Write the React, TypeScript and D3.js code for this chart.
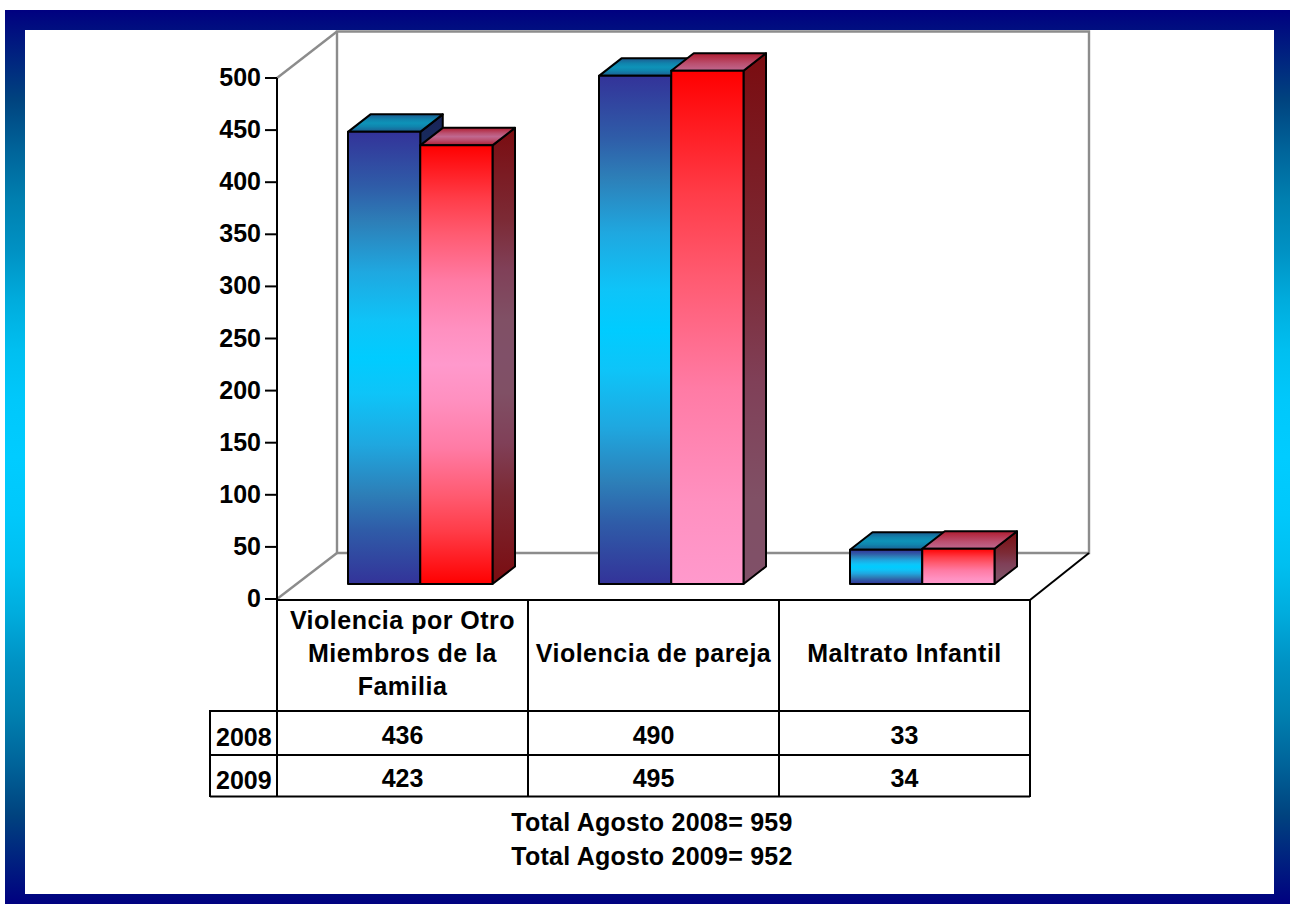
import React from "react";
import * as d3 from "d3";

const categories = ["Violencia por Otro|Miembros de la|Familia", "Violencia de pareja", "Maltrato Infantil"];
const seriesNames = ["2008", "2009"];
const values2008 = [436, 490, 33];
const values2009 = [423, 495, 34];
const yTicks = [0, 50, 100, 150, 200, 250, 300, 350, 400, 450, 500];
const totals = ["Total Agosto 2008= 959", "Total Agosto 2009= 952"];

const FONT = "'Liberation Sans', Arial, sans-serif";
const W = 1290, H = 904;
const AX = 277, AX2 = 1030, AY0 = 599, AY500 = 78;
const DX = 22.5, DY = 17.5;

type Stop = [number, string];
const blueFront: Stop[] = [[0, "#333399"], [0.12, "#2f5ca8"], [0.2, "#2d7fb8"], [0.31, "#1fa8e0"], [0.42, "#0ec4f8"], [0.5, "#00ccff"]];
const redFront: Stop[] = [[0, "#ff0000"], [0.12, "#ff3c48"], [0.2, "#ff5a70"], [0.31, "#ff7ba5"], [0.42, "#ff90c0"], [0.5, "#ff99cc"]];
const redSide: Stop[] = [[0, "#7a0c10"], [0.2, "#7c2a35"], [0.31, "#804058"], [0.42, "#805065"], [0.5, "#805068"]];
const blueSide: Stop[] = [[0, "#1a2358"], [0.5, "#006880"]];
const blueTop: Stop[] = [[0, "#1c5c90"], [0.3, "#1085ae"], [0.5, "#0e93b8"]];
const redTop: Stop[] = [[0, "#b01c30"], [0.3, "#bb5070"], [0.5, "#c06890"]];
const bgStops: Stop[] = [[0, "#000080"], [0.1, "#00437f"], [0.157, "#00649a"], [0.213, "#0080b0"], [0.27, "#0092c4"], [0.325, "#00acdd"], [0.38, "#00bff0"], [0.436, "#00c8fb"], [0.5, "#00ccff"]];

// full curve: goes up to the middle colour and back
const mirror = (s: Stop[]): Stop[] => [...s, ...s.slice(0, -1).reverse().map(([o, c]): Stop => [1 - o, c])];
// half curve: only reaches the middle colour, at the bottom of the shape
const half = (s: Stop[]): Stop[] => s.map(([o, c]): Stop => [o * 2, c]);

const Grad = ({ id, stops }: { id: string; stops: Stop[] }) => (
  <linearGradient id={id} x1="0" y1="0" x2="0" y2="1">
    {stops.map(([o, c]) => <stop key={o} offset={o} stopColor={c} />)}
  </linearGradient>
);

export default function App() {
  const yAxis = d3.scaleLinear().domain([0, 500]).range([AY0, AY500]);
  const yBar = d3.scaleLinear().domain([0, 500]).range([584, 65.5]);
  const x0 = d3.scaleBand<number>().domain(d3.range(categories.length)).range([AX, AX2]);
  const x1 = d3.scaleBand<string>().domain(seriesNames).range([71, 215.5]);
  const rows = [values2008, values2009];
  const colEdges = [AX, ...categories.map((_, i) => x0(i)! + x0.bandwidth())];

  const bar = (ci: number, si: number) => {
    const v = rows[si][ci];
    const x = x0(ci)! + x1(seriesNames[si])!;
    const w = x1.bandwidth();
    const top = yBar(v), base = yBar(0);
    const g = si === 0 ? "b" : ci === 0 ? "r3" : "r2";
    const poly = (pts: number[][]) => pts.map(p => p.join(",")).join(" ");
    return (
      <g key={`${ci}-${si}`} stroke="#000" strokeWidth={2} strokeLinejoin="round">
        <polygon fill={`url(#${g}s)`} points={poly([[x + w, top], [x + w + DX, top - DY], [x + w + DX, base - DY], [x + w, base]])} />
        <polygon fill={`url(#${g}t)`} points={poly([[x, top], [x + DX, top - DY], [x + w + DX, top - DY], [x + w, top]])} />
        <rect fill={`url(#${g}f)`} x={x} y={top} width={w} height={base - top} />
      </g>
    );
  };

  return (
    <svg width={W} height={H} viewBox={`0 0 ${W} ${H}`} style={{ position: "absolute", left: 0, top: 0, display: "block", background: "#fff" }} fontFamily={FONT} fontWeight="bold">
      <defs>
        <Grad id="bg" stops={mirror(bgStops)} />
        <Grad id="bf" stops={mirror(blueFront)} /><Grad id="bt" stops={mirror(blueTop)} /><Grad id="bs" stops={mirror(blueSide)} />
        <Grad id="r3f" stops={mirror(redFront)} /><Grad id="r3t" stops={mirror(redTop)} /><Grad id="r3s" stops={mirror(redSide)} />
        <Grad id="r2f" stops={half(redFront)} /><Grad id="r2t" stops={half(redTop)} /><Grad id="r2s" stops={half(redSide)} />
      </defs>
      <rect x={5} y={10} width={W - 5} height={H - 10} fill="url(#bg)" />
      <rect x={25} y={30} width={1249} height={864} fill="#fff" />

      <g stroke="#8c8c8c" strokeWidth={2.4} fill="none">
        <polyline points="337,553 337,31.5 1089,31.5 1089,553 337,553" />
        <line x1={AX} y1={AY500} x2={337} y2={31.5} />
        <line x1={AX} y1={AY0} x2={337} y2={553} />
      </g>
      <line x1={AX2} y1={600} x2={1089} y2={553} stroke="#000" strokeWidth={2} />

      {categories.map((_, ci) => seriesNames.map((__, si) => bar(ci, si)))}

      <g stroke="#000" strokeWidth={2}>
        <line x1={AX} y1={AY500} x2={AX} y2={797} />
        {yTicks.map(t => <line key={t} x1={265} x2={AX} y1={yAxis(t)} y2={yAxis(t)} />)}
      </g>
      <g fontSize={25} textAnchor="end" fill="#000">
        {yTicks.map(t => <text key={t} x={261} y={yAxis(t) + 8}>{t}</text>)}
      </g>

      <g stroke="#000" strokeWidth={2} fill="none">
        <line x1={AX - 1} y1={600} x2={AX2} y2={600} />
        {colEdges.slice(1).map(x => <line key={x} x1={x} x2={x} y1={600} y2={797} />)}
        <line x1={210} x2={210} y1={710} y2={797} />
        {[711, 755, 796.5].map(y => <line key={y} x1={210} x2={AX2} y1={y} y2={y} />)}
      </g>
      <g fontSize={25} textAnchor="middle" fill="#000" letterSpacing={0.5}>
        {categories.map((c, i) => {
          const lines = c.split("|");
          const cx = x0(i)! + x0.bandwidth() / 2;
          const startY = lines.length === 1 ? 662 : 628.5;
          return lines.map((l, j) => <text key={j} x={cx} y={startY + j * 33}>{l}</text>);
        })}
      </g>
      <g fontSize={25} fill="#000">
        {seriesNames.map((s, si) => (
          <text key={s} x={216} y={si === 0 ? 746 : 789}>{s}</text>
        ))}
      </g>
      <g fontSize={25} textAnchor="middle" fill="#000">
        {rows.map((r, si) => r.map((v, ci) => (
          <text key={ci} x={x0(ci)! + x0.bandwidth() / 2} y={si === 0 ? 743.5 : 787}>{v}</text>
        )))}
      </g>
      <g fontSize={25} textAnchor="middle" fill="#000" letterSpacing={0.25}>
        {totals.map((t, i) => <text key={t} x={652} y={830.5 + i * 34}>{t}</text>)}
      </g>
    </svg>
  );
}
